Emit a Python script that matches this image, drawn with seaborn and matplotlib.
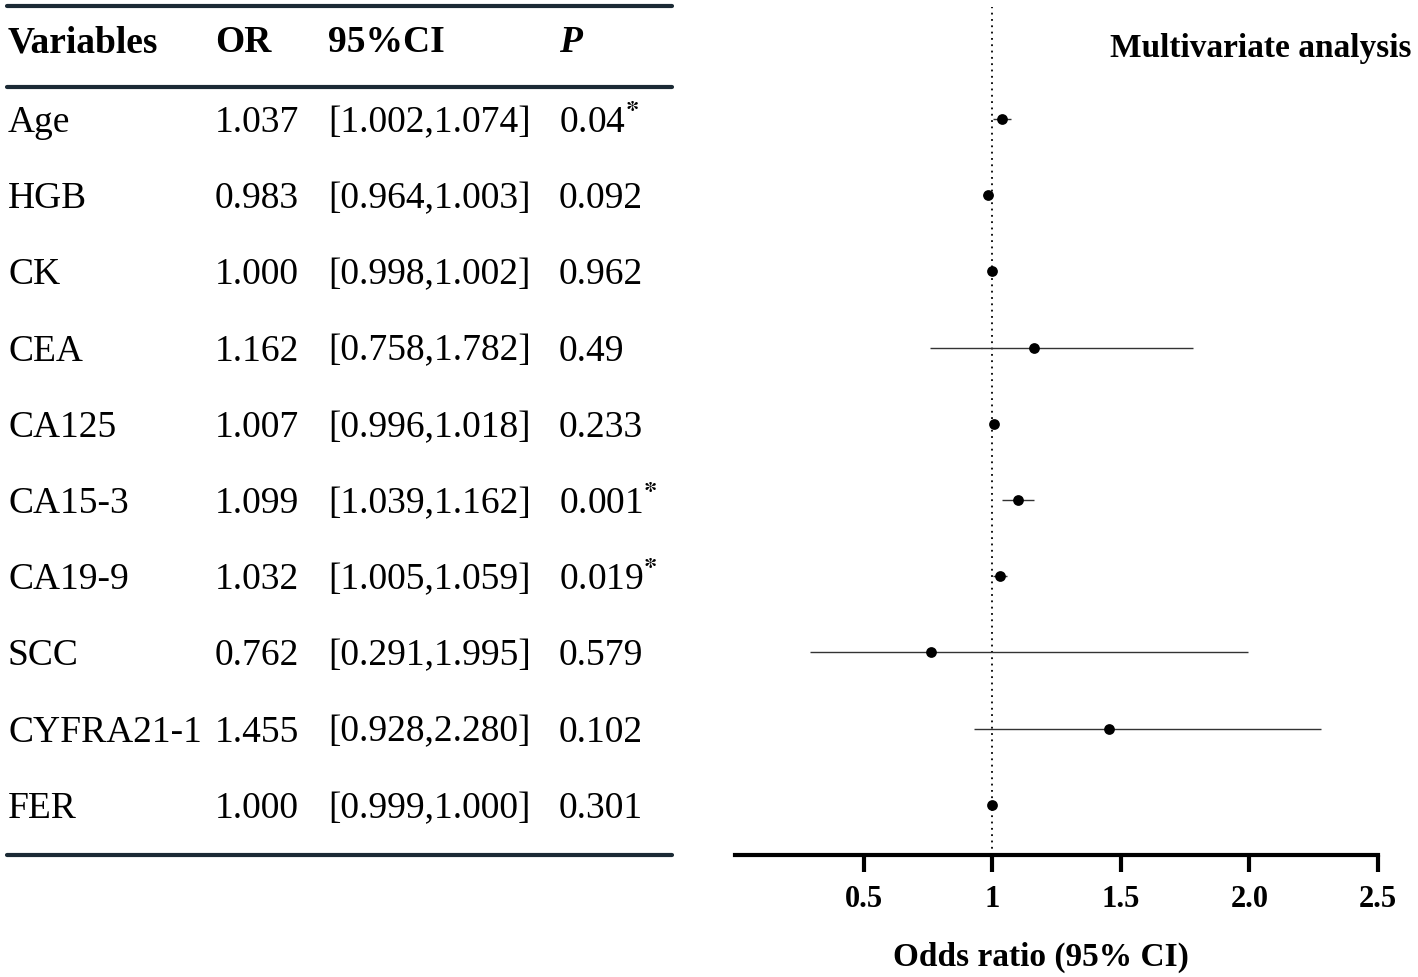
import pandas as pd
import matplotlib
matplotlib.use("Agg")
import matplotlib.pyplot as plt
import matplotlib.transforms as mtransforms
from matplotlib.lines import Line2D
import seaborn as sns

# Tablo verileri (çok değişkenli analiz)
variables = ['Age', 'HGB', 'CK', 'CEA', 'CA125', 'CA15-3', 'CA19-9', 'SCC', 'CYFRA21-1', 'FER']
or_vals = [1.037, 0.983, 1.000, 1.162, 1.007, 1.099, 1.032, 0.762, 1.455, 1.000]
ci_low = [1.002, 0.964, 0.998, 0.758, 0.996, 1.039, 1.005, 0.291, 0.928, 0.999]
ci_high = [1.074, 1.003, 1.002, 1.782, 1.018, 1.162, 1.059, 1.995, 2.280, 1.000]
p_vals = ['0.04', '0.092', '0.962', '0.49', '0.233', '0.001', '0.019', '0.579', '0.102', '0.301']
significant = [True, False, False, False, False, True, True, False, False, False]

x_ticks = [0.5, 1, 1.5, 2.0, 2.5]
x_tick_labels = ['0.5', '1', '1.5', '2.0', '2.5']

W, H = 1418, 978
LINE_COLOR = '#1b2a35'


def px_x(p):
    return p / W


def row_of(py):
    # piksel y -> satır koordinatı
    return (py - 120) / 76.2


def forest_ciz():
    sns.set_style('white')
    plt.rcParams['font.family'] = ['Liberation Serif', 'DejaVu Serif']
    plt.rcParams['mathtext.fontset'] = 'stix'
    plt.rcParams['text.color'] = 'black'
    plt.rcParams['xtick.color'] = 'black'
    plt.rcParams['axes.labelcolor'] = 'black'

    df = pd.DataFrame({
        'degisken': variables,
        'OR': or_vals,
        'alt': ci_low,
        'ust': ci_high,
        'satir': range(len(variables)),
    })

    fig = plt.figure(figsize=(W / 100, H / 100), dpi=100)
    ax_left, ax_right = 735, 1378
    ax_top, ax_bottom = 8, 856
    ax = fig.add_axes([ax_left / W, (H - ax_bottom) / H,
                       (ax_right - ax_left) / W, (ax_bottom - ax_top) / H])

    # Güven aralıkları ve noktalar
    ax.hlines(df['satir'], df['alt'], df['ust'], color='#333333', lw=1.0, zorder=2)
    sns.scatterplot(data=df, x='OR', y='satir', ax=ax, color='black', s=60,
                    edgecolor='black', linewidth=0, zorder=3, legend=False)
    ax.axvline(1, color='black', ls=(0, (1, 2.5)), lw=1.3, zorder=1)

    ax.set_xlim(0, 2.5)
    ax.set_ylim(row_of(ax_bottom), row_of(ax_top))
    ax.set_xticks(x_ticks)
    ax.set_xticklabels(x_tick_labels, fontsize=22, fontweight='bold')
    ax.set_yticks([])
    ax.set_xlabel('')
    ax.set_ylabel('')
    for s in ['left', 'top', 'right']:
        ax.spines[s].set_visible(False)
    ax.spines['bottom'].set_linewidth(3)
    ax.spines['bottom'].set_color('black')
    ax.tick_params(axis='x', bottom=True, direction='out', length=12, width=3,
                   color='black', labelcolor='black', pad=9)

    fig.text(1412 / W, 1 - 48 / H, 'Multivariate analysis', ha='right', va='center',
             fontsize=24, fontweight='bold')
    fig.text(1041 / W, 1 - 957 / H, 'Odds ratio (95% CI)', ha='center', va='center',
             fontsize=24, fontweight='bold')

    # Sol tablo: x figür koordinatı, y eksen verisi
    tr = mtransforms.blended_transform_factory(fig.transFigure, ax.transData)
    col_x = [8, 215, 328, 559]
    dy = 0.035
    header_y = row_of(40) + dy
    fs = 27
    fig.text(px_x(col_x[0]), header_y, 'Variables', transform=tr, fontsize=fs,
             fontweight='bold', va='center')
    fig.text(px_x(col_x[1]), header_y, 'OR', transform=tr, fontsize=fs,
             fontweight='bold', va='center')
    fig.text(px_x(col_x[2]), header_y, '95%CI', transform=tr, fontsize=fs,
             fontweight='bold', va='center')
    fig.text(px_x(col_x[3]), header_y, 'P', transform=tr, fontsize=fs,
             fontweight='bold', style='italic', va='center')

    for i, v in enumerate(variables):
        y = i + dy
        fig.text(px_x(col_x[0]), y, v, transform=tr, fontsize=fs, va='center')
        fig.text(px_x(col_x[1]), y, f'{or_vals[i]:.3f}', transform=tr, fontsize=fs, va='center')
        fig.text(px_x(col_x[2]), y, f'[{ci_low[i]:.3f},{ci_high[i]:.3f}]', transform=tr,
                 fontsize=fs, va='center')
        p_txt = p_vals[i] + (r'$^{\mathbf{*}}$' if significant[i] else '')
        fig.text(px_x(col_x[3]), y, p_txt, transform=tr, fontsize=fs, va='center')

    for py in [7, 88, 856]:
        fig.add_artist(Line2D([px_x(7), px_x(672)], [row_of(py), row_of(py)],
                              transform=tr, color=LINE_COLOR, lw=3, clip_on=False))

    fig.savefig('out.png', dpi=100)


if __name__ == "__main__":
    forest_ciz()
